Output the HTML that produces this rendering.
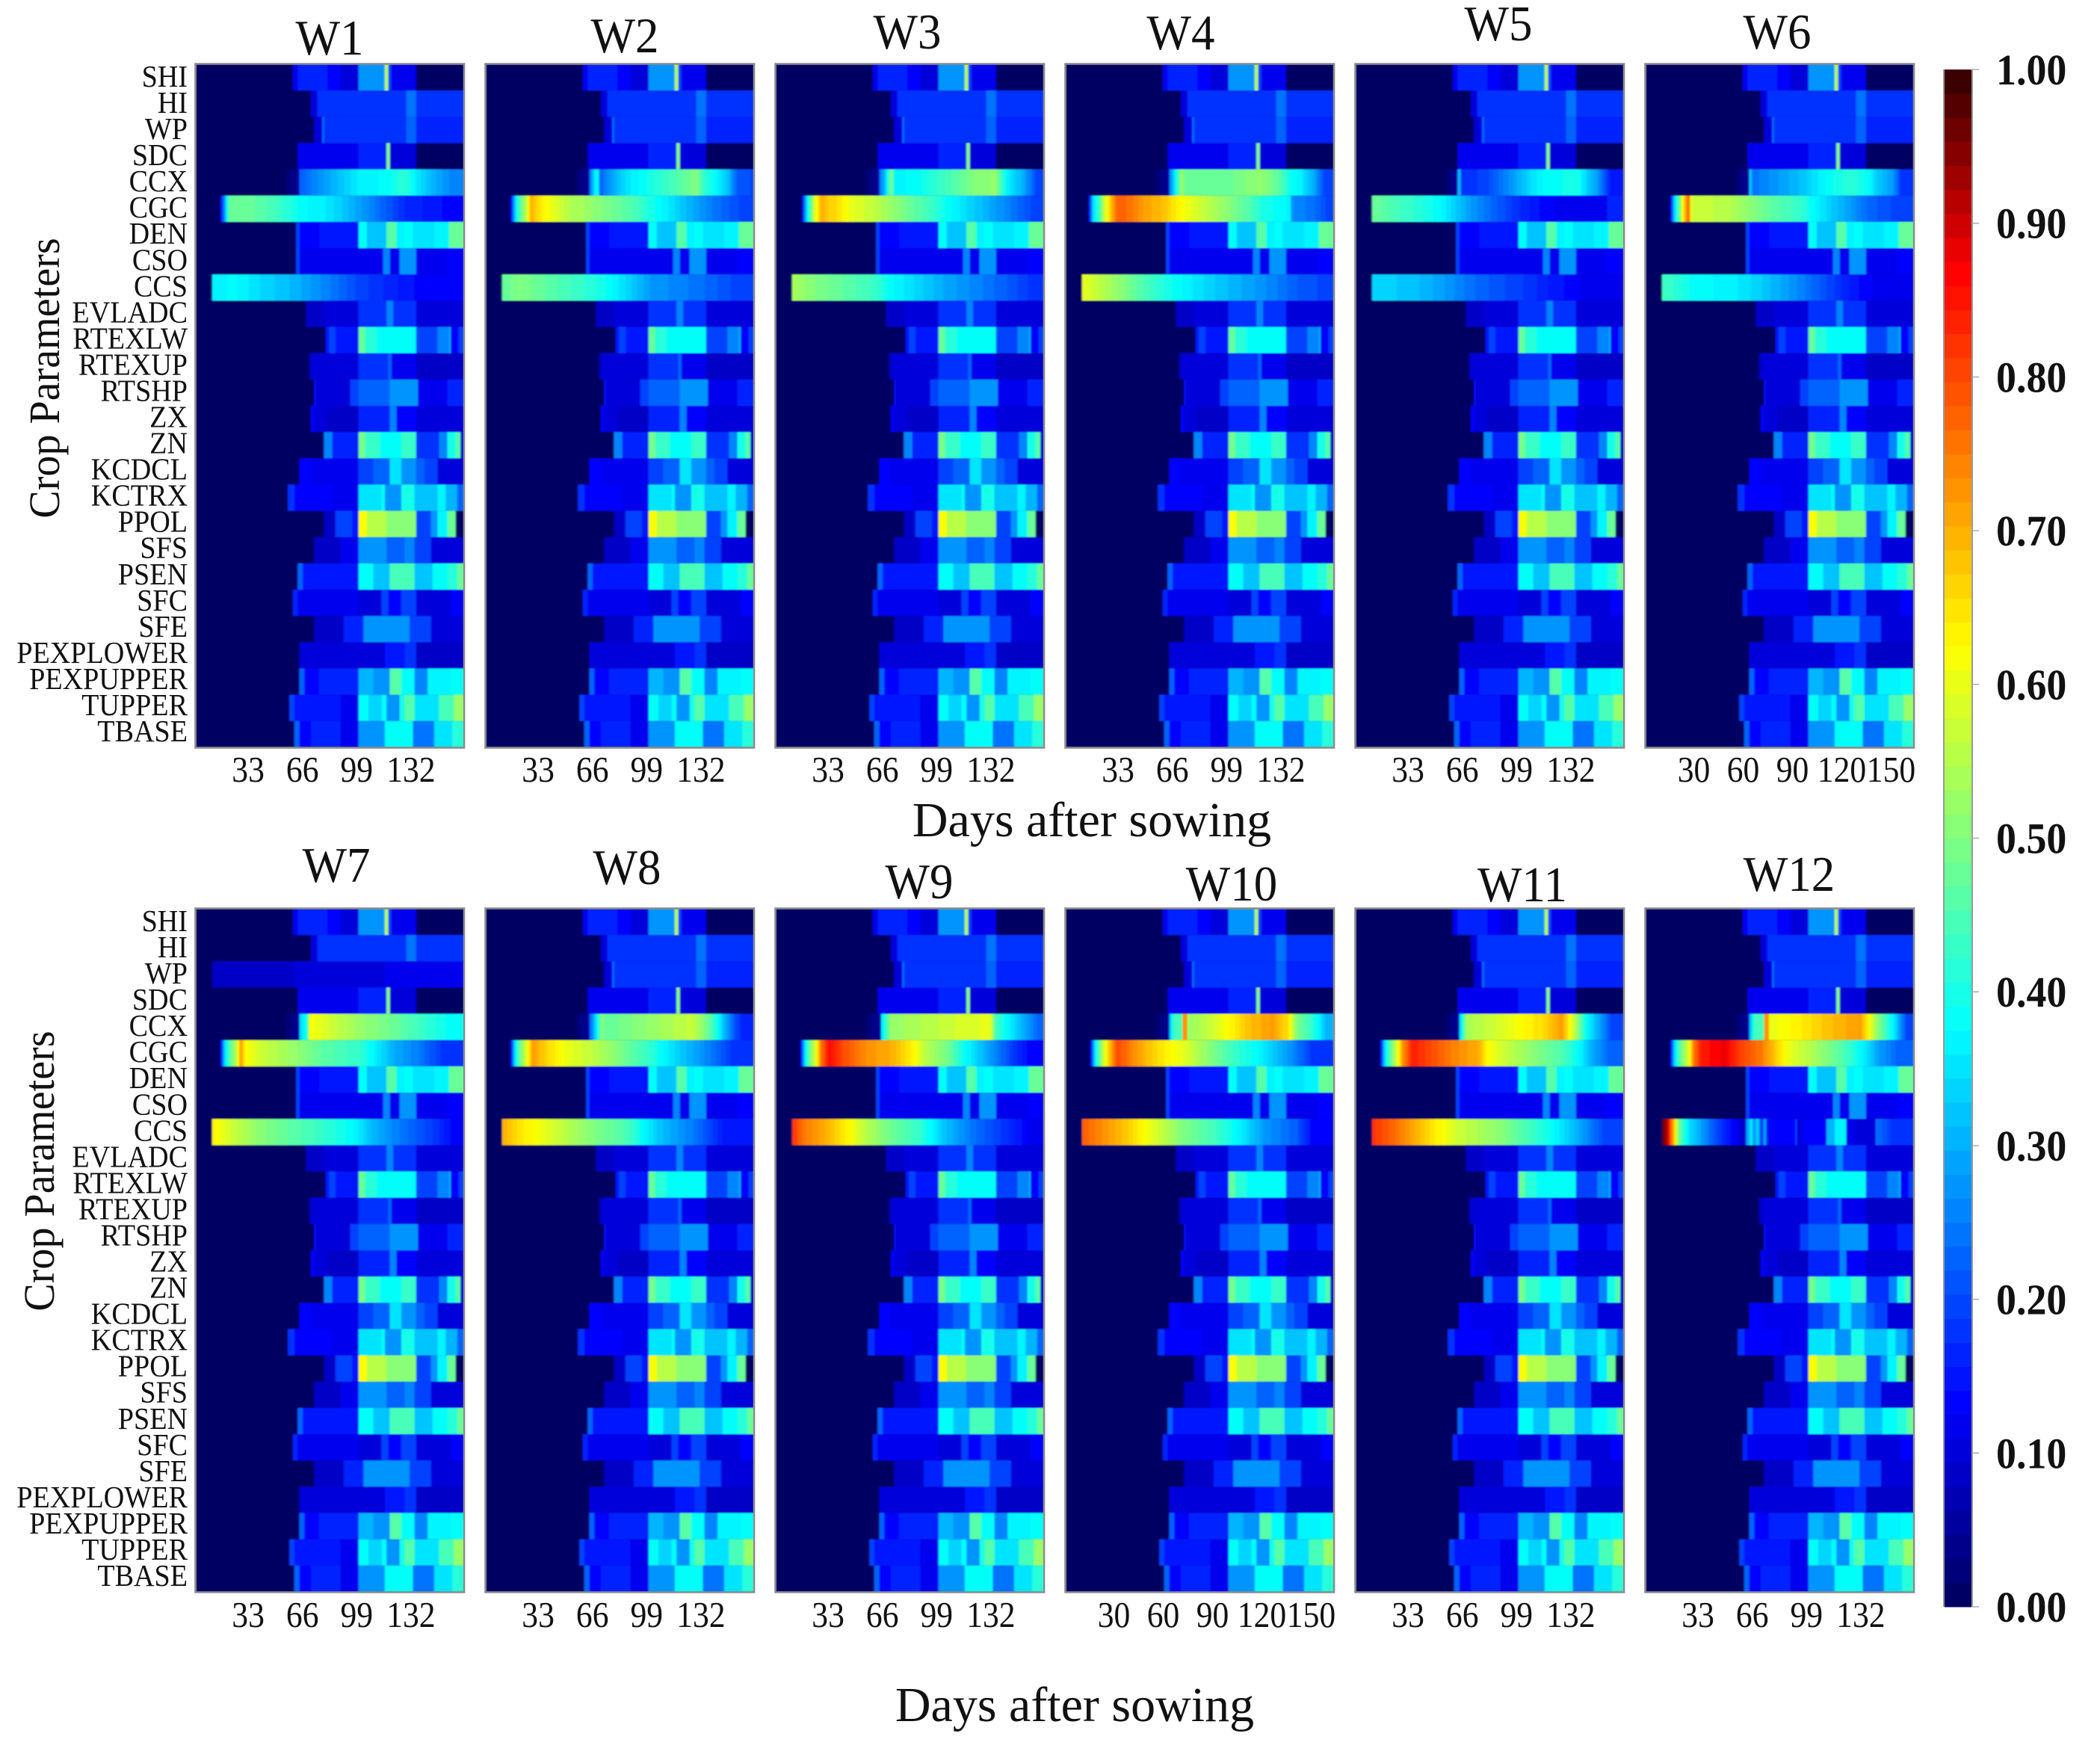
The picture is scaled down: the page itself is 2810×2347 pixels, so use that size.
<!DOCTYPE html>
<html lang="en">
<head>
<meta charset="utf-8">
<title>Crop parameter sensitivity heatmaps</title>
<style>
html,body{margin:0;padding:0;background:#fff;width:2810px;height:2347px;overflow:hidden}
svg{display:block;font-family:"Liberation Serif",serif;fill:#111}
</style>
</head>
<body>
<svg id="chart" xmlns="http://www.w3.org/2000/svg" width="2810" height="2347" viewBox="0 0 2810 2347">
<defs>
<filter id="soft" x="-2%" y="-2%" width="104%" height="104%"><feGaussianBlur stdDeviation="1.1 0.7"/></filter>
</defs>
<rect width="2810" height="2347" fill="#fff"/>
<g id="panels"></g>
<g id="row-labels"></g>
<g id="ticks"></g>
<g id="colorbar"></g>
<g font-size="67" text-anchor="middle">
<text transform="translate(441,73) scale(.94,1)">W1</text>
<text transform="translate(836,70) scale(.94,1)">W2</text>
<text transform="translate(1214,65) scale(.94,1)">W3</text>
<text transform="translate(1580,66) scale(.94,1)">W4</text>
<text transform="translate(2005,54) scale(.94,1)">W5</text>
<text transform="translate(2378,65) scale(.94,1)">W6</text>
<text transform="translate(450,1180) scale(.94,1)">W7</text>
<text transform="translate(839,1183) scale(.94,1)">W8</text>
<text transform="translate(1230,1202) scale(.94,1)">W9</text>
<text transform="translate(1648,1205) scale(.94,1)">W10</text>
<text transform="translate(2037,1206) scale(.94,1)">W11</text>
<text transform="translate(2394,1192) scale(.94,1)">W12</text>
</g>
<text x="1461" y="1119" font-size="66" text-anchor="middle">Days after sowing</text>
<text x="1438" y="2303" font-size="66" text-anchor="middle">Days after sowing</text>
<text transform="translate(79,506) rotate(-90) scale(.967,1)" font-size="58" text-anchor="middle">Crop Parameters</text>
<text transform="translate(72,1567) rotate(-90) scale(.967,1)" font-size="58" text-anchor="middle">Crop Parameters</text>
</svg>
<script>
const rowNames = ["SHI","HI","WP","SDC","CCX","CGC","DEN","CSO","CCS","EVLADC","RTEXLW","RTEXUP","RTSHP","ZX","ZN","KCDCL","KCTRX","PPOL","SFS","PSEN","SFC","SFE","PEXPLOWER","PEXPUPPER","TUPPER","TBASE"];
const ticks33 = [33,66,99,132];
const ticks30 = [30,60,90,120,150];
const colorbarTicks = ["0.00","0.10","0.20","0.30","0.40","0.50","0.60","0.70","0.80","0.90","1.00"];
const backgroundSteps = [[0,0],[10,.012],[15,.004]];

/* sensitivity read as [day, value] steps, shared by all twelve panels */
const shiSteps = [[59,.12],[62,.17],[80,.14],[88,.1],[99,.27],[114,.27],[115,.55],[117,.2],[119,.12],[134,0]];
const hiSteps = [[70,.1],[74,.18],[128,.24],[134,.18]];
const wpSteps = [[72,.1],[77,.24],[78,.18],[128,.23],[134,.17]];
const sdcSteps = [[62,.12],[99,.17],[116,.5],[118,.1],[134,0]];
const denSteps = [[61,.2],[63,.13],[75,.15],[99,.38],[104,.32],[116,.46],[122,.36],[127,.38],[132,.35],[145,.37],[154,.48]];
const csoSteps = [[61,.19],[63,.11],[99,.12],[114,.25],[118,.12],[124,.28],[134,.12],[153,.14]];
const evladcSteps = [[67,.08],[78,.1],[99,.18],[116,.25],[120,.18],[134,.1]];
const rtexlwSteps = [[79,.15],[81,.2],[85,.15],[99,.47],[103,.42],[110,.38],[134,.2],[147,.25],[154,.3],[155,.13],[160,.2]];
const rtexupSteps = [[69,.08],[71,.1],[99,.18],[117,.22],[119,.12],[134,.08]];
const rtshpSteps = [[72,.15],[73,.1],[94,.2],[99,.22],[118,.28],[135,.12],[153,.17]];
const zxSteps = [[70,.13],[72,.1],[80,.09],[99,.17],[118,.25],[122,.13],[134,.1]];
const znSteps = [[78,.25],[83,.17],[99,.49],[103,.43],[112,.38],[125,.43],[134,.18],[148,.25],[153,.4],[158,.46],[161,.1]];
const kcdclSteps = [[63,.13],[70,.12],[99,.2],[108,.23],[118,.35],[125,.27],[134,.22],[139,.2],[147,.1]];
const kctrxSteps = [[56,.18],[60,.14],[83,.11],[99,.35],[113,.38],[115,.27],[125,.4],[133,.32],[147,.37],[152,.3],[159,.22]];
const ppolSteps = [[78,.09],[85,.2],[95,.15],[99,.62],[104,.55],[116,.5],[134,.2],[143,.27],[147,.36],[153,.47],[158,0]];
const sfsSteps = [[72,.08],[88,.12],[99,.28],[116,.22],[127,.26],[133,.2],[143,.1]];
const psenSteps = [[62,.22],[65,.15],[99,.38],[108,.32],[118,.45],[133,.32],[144,.38],[153,.42],[159,.48]];
const sfcSteps = [[59,.17],[62,.12],[99,.1],[113,.2],[117,.13],[125,.2],[134,.1],[155,.13]];
const sfeSteps = [[72,.09],[90,.17],[102,.28],[125,.28],[130,.2],[143,.1]];
const pexplowerSteps = [[63,.1],[115,.15],[127,.18],[134,.08]];
const pexupperSteps = [[63,.22],[66,.14],[75,.17],[99,.3],[108,.27],[118,.46],[125,.38],[133,.25],[141,.36],[155,.38]];
const tupperSteps = [[57,.2],[60,.15],[88,.12],[99,.38],[105,.33],[113,.38],[116,.28],[124,.4],[127,.46],[133,.35],[148,.45],[157,.52]];
const tbaseSteps = [[60,.22],[63,.13],[70,.17],[88,.12],[99,.28],[115,.38],[132,.24],[145,.35],[156,.42]];
const wpStepsW7 = [[10,.09],[60,.1],[115,.11]];

/* weather-scenario specific rows, W1 to W12 */
const ccxByPanel = [
[[55,.02],[62,.05],[62.5,.22],[70,.25],[85,.31],[98,.36],[115,.38],[127,.42],[135,.35],[145,.3],[157,.25]],
[[55,.02],[62,.05],[63,.24],[66,.37],[68,.37],[69,.22],[75,.28],[85,.35],[100,.4],[115,.45],[128,.5],[133,.42],[140,.37],[147,.32],[152,.22],[162,.2]],
[[55,.02],[62,.05],[63,.24],[66,.32],[70,.5],[72,.37],[85,.38],[100,.43],[120,.5],[133,.52],[140,.37],[150,.3],[158,.2]],
[[55,.02],[62,.05],[63,.25],[66,.36],[70,.53],[72,.47],[100,.48],[118,.52],[130,.46],[135,.4],[143,.36],[150,.3],[157,.2]],
[[55,.02],[61,.05],[62,.3],[63,.3],[64,.17],[80,.2],[95,.28],[105,.34],[115,.38],[135,.4],[140,.33],[147,.28],[155,.15]],
[[55,.02],[62,.05],[63,.33],[65,.24],[80,.28],[95,.32],[110,.38],[125,.42],[135,.38],[140,.33],[150,.28],[155,.18]],
[[55,.02],[62,.05],[63,.33],[67,.4],[69,.62],[80,.58],[100,.52],[120,.48],[140,.42],[155,.38]],
[[55,.02],[62,.05],[63,.22],[66,.33],[70,.5],[72,.47],[100,.52],[125,.57],[135,.48],[140,.4],[145,.3],[155,.16]],
[[55,.02],[63,.05],[64,.35],[68,.48],[70,.52],[90,.55],[110,.58],[130,.6],[133,.45],[140,.38],[150,.3],[160,.22]],
[[55,.02],[62,.05],[63,.32],[66,.45],[70,.45],[71,.72],[73,.72],[74,.52],[90,.58],[100,.63],[110,.68],[125,.72],[135,.65],[140,.5],[150,.42],[158,.3]],
[[55,.02],[62,.05],[63,.33],[67,.54],[85,.58],[100,.62],[115,.66],[125,.72],[130,.62],[135,.5],[140,.38],[147,.3],[155,.2]],
[[55,.02],[62,.05],[63,.3],[66,.44],[71,.44],[72,.72],[74,.72],[75,.6],[90,.63],[110,.68],[130,.72],[135,.63],[140,.52],[147,.42],[152,.33],[158,.2]]
];
const cgcByPanel = [
[[15,.15],[17,.28],[20,.48],[35,.47],[48,.44],[64,.38],[78,.36],[88,.33],[108,.25],[127,.17],[157,.13]],
[[15,.14],[17,.3],[19,.42],[21,.48],[24,.55],[27,.7],[30,.67],[36,.62],[50,.55],[60,.53],[70,.5],[90,.45],[100,.4],[110,.36],[125,.3],[140,.24],[155,.2]],
[[16,.15],[18,.32],[20,.43],[23,.58],[27,.7],[32,.67],[38,.65],[45,.6],[60,.56],[75,.5],[95,.43],[105,.38],[120,.33],[140,.26],[155,.2]],
[[14,.15],[16,.33],[20,.45],[24,.6],[27,.68],[31,.78],[38,.76],[46,.72],[60,.68],[70,.62],[80,.58],[100,.5],[110,.46],[120,.4],[136,.37],[137,.27],[150,.24],[158,.2]],
[[10,.48],[25,.44],[35,.42],[50,.38],[60,.33],[70,.28],[85,.22],[100,.17],[115,.13],[135,.11],[152,.11],[153,.17]],
[[15,.15],[17,.33],[20,.47],[22,.62],[25,.75],[26,.75],[27,.58],[50,.55],[60,.52],[75,.47],[95,.42],[105,.36],[120,.3],[135,.23],[150,.2]],
[[15,.15],[17,.33],[20,.46],[24,.55],[27,.72],[30,.62],[40,.57],[60,.52],[75,.47],[100,.42],[108,.37],[120,.3],[135,.25],[150,.18]],
[[15,.15],[17,.33],[20,.48],[24,.58],[28,.72],[37,.66],[50,.6],[65,.56],[75,.52],[85,.48],[100,.42],[110,.36],[130,.28],[150,.18]],
[[15,.15],[17,.33],[20,.48],[24,.6],[27,.75],[32,.86],[40,.8],[55,.73],[70,.7],[83,.63],[90,.56],[105,.48],[115,.38],[130,.28],[145,.18],[155,.13]],
[[15,.15],[17,.33],[20,.48],[24,.62],[27,.7],[31,.8],[40,.74],[50,.68],[70,.6],[85,.52],[100,.44],[115,.38],[135,.28],[150,.18]],
[[15,.15],[17,.33],[20,.45],[25,.6],[28,.72],[34,.84],[45,.8],[60,.74],[75,.7],[80,.62],[90,.57],[110,.5],[125,.45],[135,.38],[143,.3],[155,.22]],
[[15,.15],[17,.33],[20,.46],[26,.6],[29,.76],[34,.85],[48,.88],[55,.82],[70,.75],[87,.6],[100,.55],[120,.45],[130,.38],[142,.28],[155,.22]]
];
const ccsByPanel = [
[[10,.36],[22,.38],[40,.34],[58,.31],[78,.26],[98,.2],[120,.16],[140,.13]],
[[10,.47],[20,.5],[35,.47],[50,.44],[70,.4],[78,.37],[90,.32],[100,.28],[130,.24],[150,.2],[158,.2]],
[[10,.54],[23,.5],[40,.47],[60,.43],[70,.38],[85,.34],[100,.3],[120,.26],[140,.22],[155,.18]],
[[10,.6],[20,.56],[30,.52],[40,.48],[55,.42],[68,.38],[85,.34],[105,.3],[120,.27],[140,.22],[155,.2]],
[[10,.34],[35,.32],[50,.29],[65,.25],[85,.21],[100,.19],[120,.15],[140,.12]],
[[10,.44],[20,.41],[30,.38],[50,.37],[70,.33],[90,.27],[105,.22],[125,.15],[145,.11]],
[[10,.63],[20,.58],[35,.52],[50,.48],[70,.44],[95,.38],[105,.32],[120,.26],[140,.2],[155,.14]],
[[10,.7],[20,.65],[35,.6],[50,.55],[65,.5],[85,.45],[95,.38],[105,.32],[125,.25],[145,.15]],
[[10,.82],[17,.75],[30,.7],[45,.62],[55,.55],[70,.48],[88,.42],[100,.33],[120,.24],[145,.16],[155,.12]],
[[10,.78],[25,.72],[40,.66],[55,.58],[70,.5],[90,.44],[105,.37],[120,.28],[140,.22],[150,.13]],
[[10,.82],[25,.76],[40,.68],[52,.62],[60,.58],[90,.5],[105,.44],[120,.38],[135,.3],[150,.2]],
[[10,.97],[13,.9],[15,.78],[18,.6],[20,.48],[25,.36],[35,.27],[45,.18],[55,.12],[60,.08],[61,.27],[64,.36],[65,.28],[68,.33],[70,.16],[72,.3],[74,.13],[90,.13],[91,.2],[92,.1],[100,.14],[109,.14],[110,.3],[114,.3],[115,.36],[121,.36],[122,.12],[130,.1],[139,.1],[140,.24],[150,.18]]
];

const rowSteps = {SHI:shiSteps,HI:hiSteps,WP:wpSteps,SDC:sdcSteps,DEN:denSteps,CSO:csoSteps,EVLADC:evladcSteps,RTEXLW:rtexlwSteps,RTEXUP:rtexupSteps,RTSHP:rtshpSteps,ZX:zxSteps,ZN:znSteps,KCDCL:kcdclSteps,KCTRX:kctrxSteps,PPOL:ppolSteps,SFS:sfsSteps,PSEN:psenSteps,SFC:sfcSteps,SFE:sfeSteps,PEXPLOWER:pexplowerSteps,PEXPUPPER:pexupperSteps,TUPPER:tupperSteps,TBASE:tbaseSteps};

const NS = "http://www.w3.org/2000/svg";
const maxDay = 163, dayPx = 2.2, panelW = maxDay * dayPx, panelH = 914;
const panelLeft = i => 262 + 388 * (i % 6);
const panelTop = i => (i < 6 ? 86 : 1216);
const xScale = (i, d) => panelLeft(i) + d * dayPx;
const yScale = (i, r) => panelTop(i) + r * panelH / rowNames.length;
const labelY = (top, r) => top + 30 + r * 35.04;
const cbTop = 93, cbBottom = 2150;
const cbY = v => cbBottom - v * (cbBottom - cbTop);

const cmapStops = [[0,[0,0,100]],[.125,[0,0,255]],[.375,[0,255,255]],[.625,[255,255,0]],[.875,[255,0,0]],[1,[60,0,0]]];
function color(v) {
  const lv = Math.min(63, Math.max(0, Math.floor(v * 64))) / 63;
  for (let k = 1; k < cmapStops.length; k++) {
    if (lv <= cmapStops[k][0]) {
      const a = cmapStops[k - 1], b = cmapStops[k], t = (lv - a[0]) / (b[0] - a[0]);
      return "rgb(" + a[1].map((c, j) => Math.round(c + (b[1][j] - c) * t)).join(",") + ")";
    }
  }
  return "rgb(60,0,0)";
}
function node(tag, attrs, parent) {
  const el = document.createElementNS(NS, tag);
  for (const k in attrs) el.setAttribute(k, attrs[k]);
  parent.appendChild(el);
  return el;
}
function valueAt(steps, day) {
  if (!steps.length || day < steps[0][0]) return null;
  for (let k = steps.length - 1; k >= 0; k--) {
    if (day >= steps[k][0]) {
      if (k === steps.length - 1) return steps[k][1];
      const t = (day - steps[k][0]) / (steps[k + 1][0] - steps[k][0]);
      return steps[k][1] + (steps[k + 1][1] - steps[k][1]) * t;
    }
  }
  return null;
}

const panelsG = document.getElementById("panels");
const labelsG = document.getElementById("row-labels");
const ticksG = document.getElementById("ticks");
const cbG = document.getElementById("colorbar");

for (let p = 0; p < 12; p++) {
  const clipId = "clip" + p;
  const defs = node("clipPath", {id: clipId}, panelsG);
  node("rect", {x: panelLeft(p), y: panelTop(p), width: panelW, height: panelH}, defs);
  const outer = node("g", {"clip-path": "url(#" + clipId + ")"}, panelsG);
  
  
  const g = node("g", {filter: "url(#soft)"}, outer);
  rowNames.forEach((name, r) => {
    const y0 = yScale(p, r), h = yScale(p, r + 1) - y0 + 0.4;
    backgroundSteps.forEach((s, k) => {
      const end = k + 1 < backgroundSteps.length ? backgroundSteps[k + 1][0] : maxDay;
      const bg = node("rect", {x: xScale(p, s[0]), y: y0, width: (end - s[0]) * dayPx + .4, height: h, fill: color(s[1])}, g);
      
      
    });
    if (name === "CCX" || name === "CGC" || name === "CCS") {
      const steps = (name === "CCX" ? ccxByPanel : name === "CGC" ? cgcByPanel : ccsByPanel)[p];
      for (let d = 0; d < maxDay; d++) {
        const v = valueAt(steps, d);
        if (v === null) continue;
        const c = node("rect", {x: xScale(p, d), y: y0, width: dayPx + .4, height: h, fill: color(v)}, g);
        
        
      }
    } else {
      const steps = (p === 6 && name === "WP") ? wpStepsW7 : rowSteps[name];
      steps.forEach((s, k) => {
        const end = k + 1 < steps.length ? steps[k + 1][0] : maxDay;
        const c = node("rect", {x: xScale(p, s[0]), y: y0, width: (end - s[0]) * dayPx + .4, height: h, fill: color(s[1])}, g);
        
        
      });
    }
  });
  const frame = node("rect", {x: panelLeft(p) - .5, y: panelTop(p) - .5, width: panelW + 1, height: panelH + 1, fill: "none", stroke: "#8a8a8a", "stroke-width": 2.5}, panelsG);
  
  

  const ticks = (p === 5 || p === 9) ? ticks30 : ticks33;
  const off = (p === 5 || p === 9) ? -1.5 : -2.5;
  const base = p < 6 ? 1046 : 2177;
  ticks.forEach(t => {
    const tx = node("text", {transform: "translate(" + (xScale(p, t) + off) + "," + base + ") scale(.89,1)", "font-size": 49, "text-anchor": "middle"}, ticksG);
    
    
    tx.textContent = t;
  });
}

[86, 1216].forEach(top => {
  rowNames.forEach((name, r) => {
    const tx = node("text", {transform: "translate(251," + labelY(top, r) + ") scale(.93,1)", "font-size": 41, "text-anchor": "end"}, labelsG);
    
    
    tx.textContent = name;
  });
});

for (let l = 0; l < 64; l++) {
  const v0 = l / 64, v1 = (l + 1) / 64;
  const rc = node("rect", {x: 2602, y: cbY(v1), width: 36, height: cbY(v0) - cbY(v1) + .5, fill: color((l + .5) / 64)}, cbG);
  
  
}
const cbLeft = node("line", {x1: 2601, x2: 2601, y1: cbTop, y2: cbBottom, stroke: "#999", "stroke-width": 2}, cbG);


const cbRight = node("line", {x1: 2639, x2: 2639, y1: cbTop, y2: cbBottom, stroke: "#999", "stroke-width": 2}, cbG);


colorbarTicks.forEach(lbl => {
  const y = cbY(parseFloat(lbl));
  const tk = node("line", {x1: 2639, x2: 2648, y1: y, y2: y, stroke: "#aaa", "stroke-width": 1.5}, cbG);
  
  
  const tx = node("text", {transform: "translate(2671," + (y + 20) + ") scale(.93,1)", "font-size": 58, "font-weight": "bold"}, cbG);
  
  
  tx.textContent = lbl;
});
</script>
</body>
</html>
